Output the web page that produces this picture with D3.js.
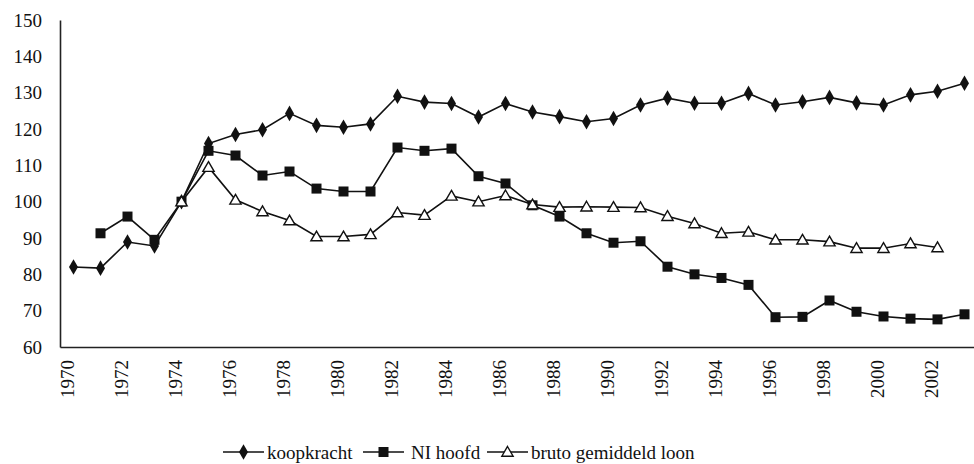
<!DOCTYPE html>
<html lang="nl">
<head>
<meta charset="UTF-8">
<title>Koopkracht, NI hoofd, bruto loon</title>
<script src="https://d3js.org/d3.v7.min.js"></script>
<style>
  body { margin: 0; background: #fff; overflow: hidden; }
  svg text { font-family: "Liberation Serif", "Times New Roman", serif; fill: #111; }
  .line { fill: none; stroke: #111; stroke-width: 1.6; }
</style>
</head>
<body>
<div id="chart"></div>
<script>
// data (1974 = 100)
const years = d3.range(1970, 2004);
const koopkracht = [82, 81.7, 88.9, 87.8, 100, 116, 118.5, 119.8, 124.3, 121, 120.5, 121.4,
  129, 127.4, 127, 123.3, 127, 124.7, 123.4, 122, 122.9, 126.6, 128.5, 127.1, 127.1, 129.8,
  126.6, 127.5, 128.7, 127.2, 126.6, 129.4, 130.4, 132.6];
const niHoofd = [null, 91.3, 95.9, 89.5, 100, 114, 112.7, 107.2, 108.3, 103.6, 102.8, 102.8,
  114.9, 114, 114.6, 107, 105, 99, 95.9, 91.3, 88.7, 89.1, 82.1, 80, 79, 77.1,
  68.2, 68.3, 72.8, 69.7, 68.4, 67.8, 67.6, 69];
const brutoLoon = [null, null, null, null, 100, 109.5, 100.5, 97.3, 94.8, 90.4, 90.4, 91,
  97, 96.3, 101.6, 100, 101.7, 99.2, 98.5, 98.6, 98.5, 98.4, 96, 94, 91.3, 91.7,
  89.5, 89.5, 89, 87.2, 87.2, 88.5, 87.4, null];
const yTicks = d3.range(60, 151, 10);
const xTicks = d3.range(1970, 2003, 2);
const seriesNames = ["koopkracht", "NI hoofd", "bruto gemiddeld loon"];

const W = 974, H = 464;
const svg = d3.select("#chart").append("svg")
  .attr("width", W).attr("height", H);

const x = d3.scaleBand().domain(years).range([60, 978]);
const cx = d => x(d) + x.bandwidth() / 2;
const y = d3.scaleLinear().domain([60, 150]).range([347, 20]);

// axes
const yAxis = svg.append("g")
  .attr("transform", "translate(60,0)")
  .call(d3.axisLeft(y).tickValues(yTicks).tickSize(0).tickPadding(18));
yAxis.select(".domain").attr("stroke", "#222").attr("stroke-width", 1.6);
yAxis.selectAll("text").style("font-size", "19px");

const xAxis = svg.append("g")
  .attr("transform", "translate(0,347)")
  .call(d3.axisBottom(x).tickValues(xTicks).tickSize(0).tickSizeOuter(0));
xAxis.select(".domain").attr("stroke", "#222").attr("stroke-width", 1.6);
xAxis.selectAll("text")
  .style("font-size", "19px")
  .attr("text-anchor", "end")
  .attr("transform", "rotate(-90)")
  .attr("x", -13)
  .attr("y", -6)
  .attr("dy", "0.35em");

// markers
function drawMarker(g, type, px, py) {
  if (type === "diamond") {
    g.append("path")
      .attr("d", d3.symbol(d3.symbolDiamond, 70)())
      .attr("transform", `translate(${px},${py})`)
      .attr("fill", "#111");
  } else if (type === "square") {
    g.append("rect")
      .attr("x", px - 5).attr("y", py - 5)
      .attr("width", 10).attr("height", 10)
      .attr("fill", "#111");
  } else {
    g.append("path")
      .attr("d", d3.symbol(d3.symbolTriangle, 55)())
      .attr("transform", `translate(${px},${py + 1})`)
      .attr("fill", "#fff").attr("stroke", "#111").attr("stroke-width", 1.4);
  }
}

const series = [
  { name: seriesNames[0], values: koopkracht, marker: "diamond" },
  { name: seriesNames[1], values: niHoofd, marker: "square" },
  { name: seriesNames[2], values: brutoLoon, marker: "triangle" }
];

const line = d3.line()
  .defined(d => d.v !== null)
  .x(d => cx(d.year))
  .y(d => y(d.v));

series.forEach(s => {
  const pts = years.map((yr, i) => ({ year: yr, v: s.values[i] }));
  svg.append("path").attr("class", "line").attr("d", line(pts));
  const g = svg.append("g");
  pts.filter(p => p.v !== null).forEach(p => drawMarker(g, s.marker, cx(p.year), y(p.v)));
});

// legend
const legendPos = [223, 363, 487];
const textGap = [44, 48, 44];
const legend = svg.append("g").attr("transform", "translate(0,452)");
series.forEach((s, i) => {
  const lx = legendPos[i];
  legend.append("line")
    .attr("x1", lx).attr("x2", lx + 41)
    .attr("y1", 0).attr("y2", 0)
    .attr("stroke", "#111").attr("stroke-width", 1.6);
  drawMarker(legend, s.marker, lx + 20.5, 0);
  legend.append("text")
    .attr("x", lx + textGap[i]).attr("y", 0).attr("dy", "0.35em")
    .style("font-size", "19px")
    .text(s.name);
});
</script>
</body>
</html>
